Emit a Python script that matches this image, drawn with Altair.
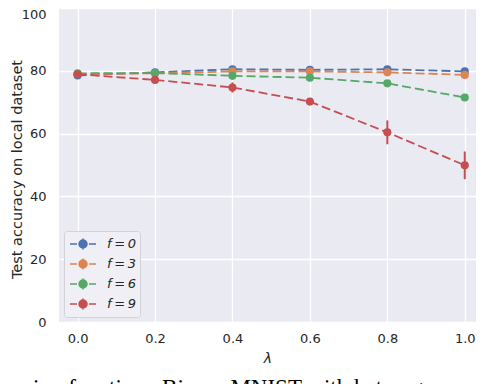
import altair as alt
import pandas as pd

# ---- data ----
lambdas = [0.0, 0.2, 0.4, 0.6, 0.8, 1.0]
series = ["f\u2009=\u20090", "f\u2009=\u20093", "f\u2009=\u20096", "f\u2009=\u20099"]
acc_f0 = [78.5, 79.5, 80.5, 80.3, 80.5, 79.8]
acc_f3 = [78.9, 79.2, 79.8, 79.8, 79.5, 78.7]
acc_f6 = [79.2, 79.3, 78.4, 77.8, 76.0, 71.5]
acc_f9 = [78.9, 77.1, 74.7, 70.2, 60.4, 49.9]
err_f0 = [0.4, 0.3, 0.3, 0.3, 0.3, 0.3]
err_f3 = [0.3, 0.3, 0.4, 0.3, 0.4, 0.4]
err_f6 = [0.3, 0.3, 0.5, 0.5, 0.6, 0.8]
err_f9 = [0.4, 0.6, 1.6, 0.8, 3.8, 4.4]
colors = ["#4C72B0", "#DD8452", "#55A868", "#C44E52"]
y_ticks = [0, 20, 40, 60, 80, 100]
x_ticks = [0.0, 0.2, 0.4, 0.6, 0.8, 1.0]
y_title = "Test accuracy on local dataset"
x_title = "\u03bb"
caption = ["ion function.\u2002Binary MNIST with heterogeneous"]

accs = [acc_f0, acc_f3, acc_f6, acc_f9]
errs = [err_f0, err_f3, err_f6, err_f9]
rows = []
for s, a, e in zip(series, accs, errs):
    for lam, v, d in zip(lambdas, a, e):
        rows.append({"series": s, "lam": lam, "acc": v, "lo": v - d, "hi": v + d})
df = pd.DataFrame(rows)

TXT = "#262626"
FONT = "DejaVu Sans"

xaxis = alt.Axis(values=x_ticks, format=".1f", title=x_title, labelFont=FONT,
                 labelFontSize=13, labelColor=TXT, labelPadding=10, labelFlush=False,
                 ticks=False, domain=False, grid=True, gridColor="white", gridWidth=1.3,
                 titleFont=FONT, titleFontSize=14, titleFontStyle="italic",
                 titleFontWeight="normal", titleColor=TXT, titlePadding=6)
yaxis = alt.Axis(values=y_ticks, title=y_title, labelFont=FONT, labelFontSize=13,
                 labelColor=TXT, labelPadding=13, ticks=False, domain=False,
                 grid=True, gridColor="white", gridWidth=1.3,
                 labelBaseline={"condition": {"test": "datum.value == 100", "value": "top"},
                                "value": "middle"},
                 titleFont=FONT, titleFontSize=14.5, titleFontWeight="normal",
                 titleColor=TXT, titleX=-35, titleY=161)

xs = alt.Scale(domain=[-0.048, 1.029], nice=False, zero=False)
ys = alt.Scale(domain=[0, 100], nice=False)
cs = alt.Scale(domain=series, range=colors)

# legend symbol: dash - dot (rings) - dash with vertical error tick (unit = 8px)
sym = ("M-0.875,0H0 M1.5,0H2.375 M0.75,-0.69V0.69 "
       "M1.25,0A0.5,0.5,0,1,1,0.25,0A0.5,0.5,0,1,1,1.25,0 "
       "M1.1,0A0.35,0.35,0,1,1,0.4,0A0.35,0.35,0,1,1,1.1,0 "
       "M0.95,0A0.2,0.2,0,1,1,0.55,0A0.2,0.2,0,1,1,0.95,0 "
       "M0.81,0A0.06,0.06,0,1,1,0.69,0A0.06,0.06,0,1,1,0.81,0")
legend = alt.Legend(title=None, orient="bottom-left", offset=5, symbolType=sym,
                    symbolSize=256, symbolStrokeWidth=1.5, symbolOpacity=1,
                    labelFont=FONT, labelFontSize=13, labelFontStyle="italic",
                    labelColor=TXT, labelOffset=21, padding=4, rowPadding=2,
                    fillColor="#EFEFF5", strokeColor="#D2D2D8", cornerRadius=3)

layers = []
for i, s in enumerate(series):
    base = alt.Chart(df).transform_filter(alt.datum.series == s)
    X = alt.X("lam:Q", scale=xs, axis=xaxis)
    line = base.mark_line(strokeDash=[9, 4], strokeWidth=1.8).encode(
        x=X, y=alt.Y("acc:Q", scale=ys, axis=yaxis),
        color=alt.Color("series:N", scale=cs, legend=None))
    rule = base.mark_rule(strokeWidth=2).encode(
        x=X, y=alt.Y("lo:Q", scale=ys, axis=yaxis), y2="hi:Q",
        color=alt.Color("series:N", scale=cs, legend=legend if i == 0 else None))
    pts = base.mark_circle(size=66, opacity=1).encode(
        x=X, y=alt.Y("acc:Q", scale=ys, axis=yaxis),
        color=alt.Color("series:N", scale=cs, legend=None))
    layers += [line, rule, pts]

cap = alt.Chart(pd.DataFrame({"t": caption})).mark_text(
    font="Liberation Serif", fontSize=23, color="black", align="left",
    baseline="alphabetic").encode(text="t:N", x=alt.value(-26), y=alt.value(387))
layers.append(cap)

chart = alt.layer(*layers).resolve_legend(color="independent").properties(
    width=417, height=314,
    padding={"left": 51, "top": 0, "right": 0, "bottom": 62},
    autosize=alt.AutoSizeParams(type="none"),
    background="white",
).configure_view(fill="#EAEAF2", stroke=None)

chart.save("out.html", embed_options={"renderer": "svg", "actions": False})
